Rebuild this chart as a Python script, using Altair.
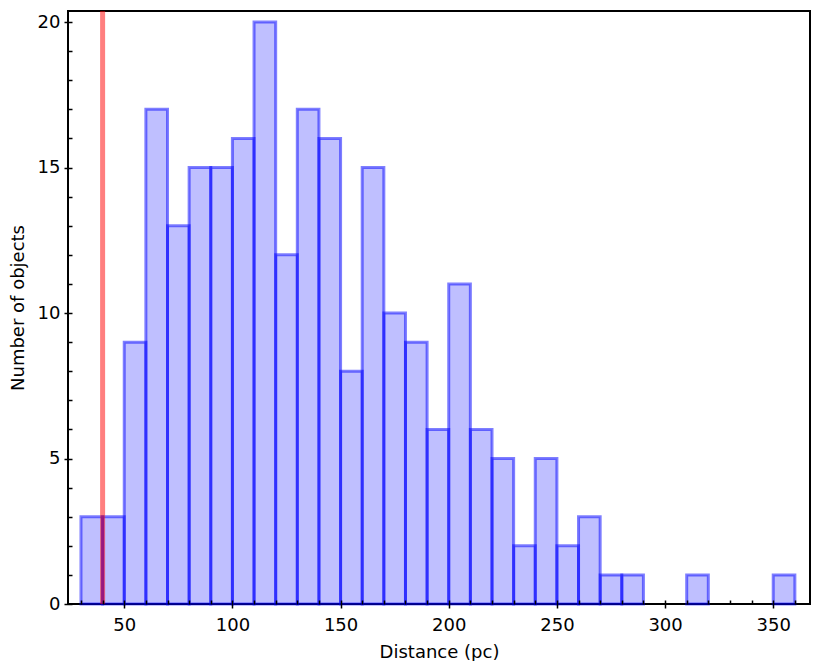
import altair as alt
import pandas as pd

# Histogram data (bin width 10 pc)
bin_start = list(range(30, 360, 10))
counts = [3, 3, 9, 17, 13, 15, 15, 16, 20, 12, 17, 16, 8, 15, 10, 9, 6, 11, 6, 5,
          2, 5, 2, 3, 1, 1, 0, 0, 1, 0, 0, 0, 1]
bin_width = 10
marker_x = 40

x_major = [50, 100, 150, 200, 250, 300, 350]
x_minor = [v for v in range(30, 370, 10) if v % 50 != 0]
y_major = [0, 5, 10, 15, 20]
y_minor = [v for v in range(0, 21) if v % 5 != 0]

df = pd.DataFrame({"start": bin_start, "count": counts})
df = df[df["count"] > 0].copy()
df["end"] = df["start"] + bin_width
df["base"] = 0

FONT = "DejaVu Sans"
FS = 18
xscale = alt.Scale(domain=[24, 367], nice=False, zero=False)
yscale = alt.Scale(domain=[0, 20.38], nice=False)

def xaxis_major():
    return alt.Axis(values=x_major, orient="bottom", domain=False, grid=False,
                    tickSize=8, offset=-4, tickColor="black", tickWidth=1.5,
                    labelPadding=8, labelFontSize=FS, labelFont=FONT, labelColor="black",
                    title="Distance (pc)", titleFontSize=FS, titleFont=FONT,
                    titleFontWeight="normal", titleColor="black", titlePadding=9, zindex=1)

def yaxis_major():
    return alt.Axis(values=y_major, orient="left", domain=False, grid=False,
                    tickSize=8, offset=-4, tickColor="black", tickWidth=1.5,
                    labelPadding=4, labelFontSize=FS, labelFont=FONT, labelColor="black",
                    title="Number of objects", titleFontSize=FS, titleFont=FONT,
                    titleFontWeight="normal", titleColor="black", titlePadding=10, zindex=1)

bars = alt.Chart(df).mark_rect(
    fill="blue", fillOpacity=0.25, stroke="blue", strokeOpacity=0.5, strokeWidth=3
).encode(
    x=alt.X("start:Q", scale=xscale, axis=xaxis_major()),
    x2="end:Q",
    y=alt.Y("count:Q", scale=yscale, axis=yaxis_major()),
    y2="base:Q",
)

minor = alt.Chart(df).mark_rect(opacity=0).encode(
    x=alt.X("start:Q", scale=xscale,
            axis=alt.Axis(values=x_minor, orient="bottom", domain=False, grid=False,
                          labels=False, title=None, tickSize=4, offset=-4,
                          tickColor="black", tickWidth=1.5, zindex=1)),
    y=alt.Y("count:Q", scale=yscale,
            axis=alt.Axis(values=y_minor, orient="left", domain=False, grid=False,
                          labels=False, title=None, tickSize=4, offset=-4,
                          tickColor="black", tickWidth=1.5, zindex=1)),
)

marker = alt.Chart(pd.DataFrame({"x": [marker_x]})).mark_rule(
    color="red", opacity=0.5, strokeWidth=5
).encode(x=alt.X("x:Q", scale=xscale, axis=None))

chart = alt.layer(bars, marker, minor).resolve_axis(x="independent", y="independent").properties(
    width=742, height=593,
    padding={"left": 1, "top": 0, "right": 5, "bottom": 0},
).configure_view(stroke="black", strokeWidth=2)

chart.save("out.html", embed_options={"renderer": "svg", "actions": False})
